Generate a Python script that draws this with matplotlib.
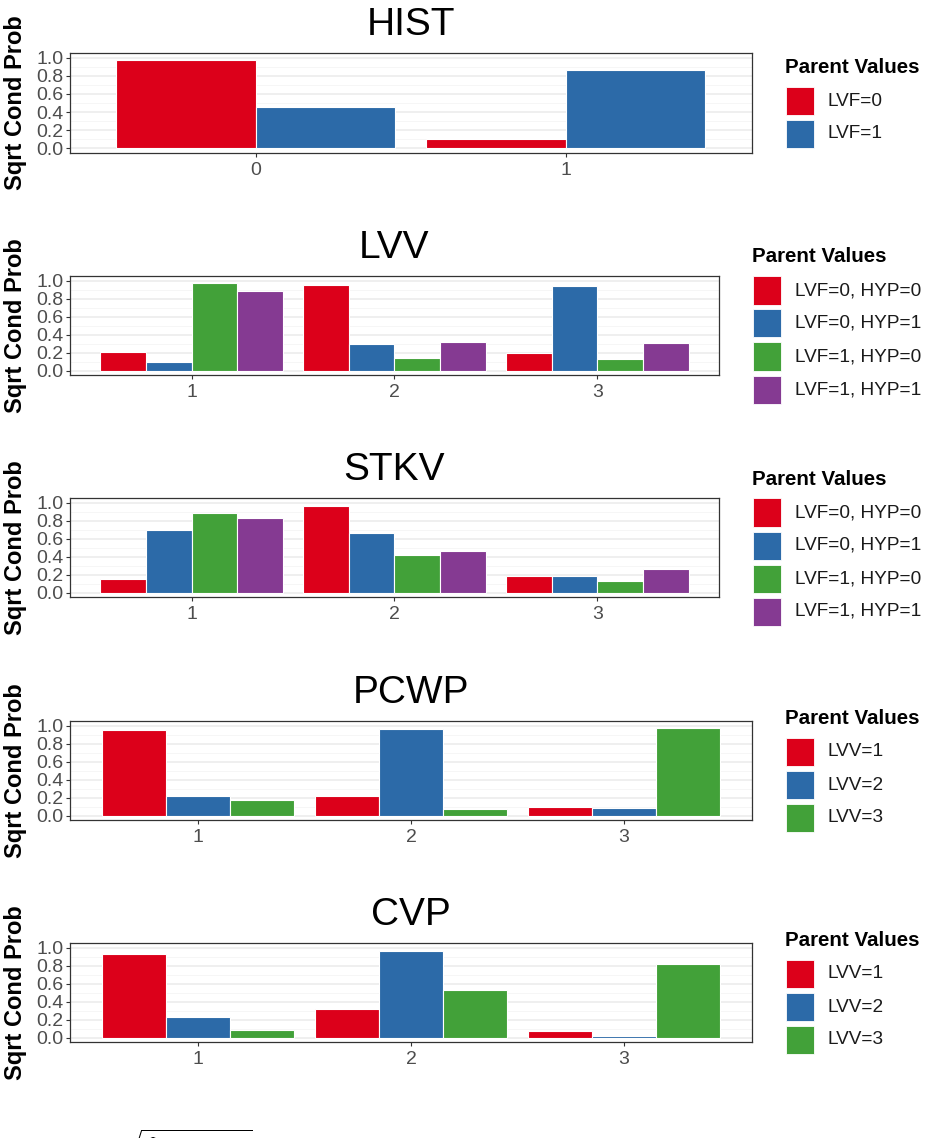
import matplotlib
matplotlib.use('Agg')
import matplotlib.pyplot as plt
from matplotlib.patches import Rectangle

plt.rcParams['font.family'] = ['Liberation Sans', 'DejaVu Sans']
plt.rcParams['mathtext.fontset'] = 'dejavusans'

# =========================
# DATA (rows = parent value, cols = category)
# =========================
hist_cats = ['0', '1']
hist_parents = ['LVF=0', 'LVF=1']
hist_vals = [[0.975, 0.105],
             [0.46, 0.866]]

lvv_cats = ['1', '2', '3']
lvv_parents = ['LVF=0, HYP=0', 'LVF=0, HYP=1', 'LVF=1, HYP=0', 'LVF=1, HYP=1']
lvv_vals = [[0.21, 0.945, 0.19],
            [0.092, 0.29, 0.94],
            [0.97, 0.136, 0.13],
            [0.88, 0.316, 0.305]]

stkv_cats = ['1', '2', '3']
stkv_parents = ['LVF=0, HYP=0', 'LVF=0, HYP=1', 'LVF=1, HYP=0', 'LVF=1, HYP=1']
stkv_vals = [[0.15, 0.96, 0.18],
             [0.70, 0.66, 0.18],
             [0.88, 0.42, 0.13],
             [0.83, 0.46, 0.26]]

pcwp_cats = ['1', '2', '3']
pcwp_parents = ['LVV=1', 'LVV=2', 'LVV=3']
pcwp_vals = [[0.95, 0.22, 0.096],
             [0.22, 0.956, 0.08],
             [0.17, 0.074, 0.967]]

cvp_cats = ['1', '2', '3']
cvp_parents = ['LVV=1', 'LVV=2', 'LVV=3']
cvp_vals = [[0.93, 0.32, 0.077],
            [0.23, 0.96, 0.022],
            [0.08, 0.533, 0.82]]

y_ticks = [0.0, 0.2, 0.4, 0.6, 0.8, 1.0]
y_ticklabels = ['0.0', '0.2', '0.4', '0.6', '0.8', '1.0']

COLORS = ['#DC001A', '#2C6AA8', '#42A139', '#853A92']

# =========================
# LAYOUT (pixels)
# =========================
W, H = 929, 1138
fig = plt.figure(figsize=(W / 100, H / 100), dpi=100)

panels = [
    ('HIST', hist_cats, hist_parents, hist_vals, (70, 53, 752, 153)),
    ('LVV', lvv_cats, lvv_parents, lvv_vals, (70, 276, 719, 375)),
    ('STKV', stkv_cats, stkv_parents, stkv_vals, (70, 498, 719, 597)),
    ('PCWP', pcwp_cats, pcwp_parents, pcwp_vals, (70, 721, 752, 820)),
    ('CVP', cvp_cats, cvp_parents, cvp_vals, (70, 943, 752, 1042)),
]


def fx(px):
    return px / W


def fy(py):
    return 1 - py / H


for name, cats, parents, vals, (x0, y0, x1, y1) in panels:
    ax = fig.add_axes([fx(x0), fy(y1), (x1 - x0) / W, (y1 - y0) / H])
    n = len(parents)
    w = 0.9 / n
    for k, series in enumerate(vals):
        xs = [i + 1 - 0.45 + (k + 0.5) * w for i in range(len(cats))]
        ax.bar(xs, series, width=w, color=COLORS[k], edgecolor='white',
               linewidth=0.8, zorder=3)

    ax.set_xlim(0.4, len(cats) + 0.6)
    ax.set_ylim(-0.05, 1.05)
    ax.set_xticks(range(1, len(cats) + 1))
    ax.set_xticklabels(cats)
    ax.set_yticks(y_ticks)
    ax.set_yticklabels(y_ticklabels)
    ax.set_yticks([0.1, 0.3, 0.5, 0.7, 0.9], minor=True)
    ax.yaxis.grid(True, which='major', color='#EBEBEB', linewidth=1.1, zorder=0)
    ax.yaxis.grid(True, which='minor', color='#F5F5F5', linewidth=0.6, zorder=0)
    ax.set_axisbelow(True)
    ax.tick_params(axis='both', which='major', labelsize=14, labelcolor='#4D4D4D',
                   color='#333333', length=2.75, width=0.8, pad=2)
    ax.tick_params(axis='x', which='major', pad=4)
    ax.tick_params(axis='y', which='minor', length=0)
    for sp in ax.spines.values():
        sp.set_color('#333333')
        sp.set_linewidth(0.9)

    ax.set_title(name, fontsize=28, pad=13)

    # y label
    fig.text(fx(16), fy((y0 + y1) / 2), 'Sqrt Cond Prob', rotation=90,
             ha='center', va='center', fontsize=17, fontweight='bold')

    # legend drawn by hand
    kx = x1 + 34
    total = 29 + n * 33 - 5
    top = (y0 + y1) / 2 - total / 2
    fig.text(fx(kx - 1), fy(top + 15), 'Parent Values', fontsize=14.8,
             fontweight='bold', ha='left', va='baseline')
    for k, lab in enumerate(parents):
        ky = top + 29 + k * 33
        fig.patches.append(Rectangle((fx(kx), fy(ky + 28)), 28 / W, 28 / H,
                                     transform=fig.transFigure,
                                     facecolor=COLORS[k], edgecolor='white',
                                     linewidth=0.6))
        fig.text(fx(kx + 42), fy(ky + 14), lab, fontsize=13.7,
                 ha='left', va='center', color='#1A1A1A')

# cut-off caption at the very bottom
fig.text(fx(120), fy(1127), r'$\sqrt{\widehat{P}\,(x \mid pa)}$', fontsize=17.5,
         ha='left', va='top')

plt.savefig('out.png', dpi=100)
